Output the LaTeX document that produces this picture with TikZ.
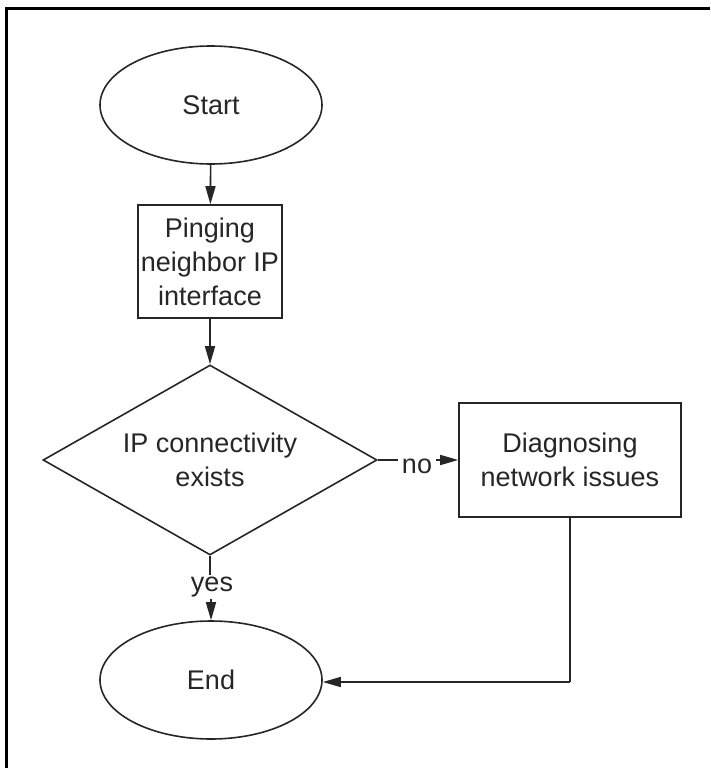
\documentclass[tikz,border=0pt]{standalone}
\usepackage{fontspec}
\setmainfont{Liberation Sans}
\usetikzlibrary{shapes.geometric,arrows.meta}
\begin{document}
\begin{tikzpicture}[x=1pt,y=-1pt,
  shp/.style={draw=black!85,line width=1.6pt,inner sep=0pt,align=center,
    font=\fontsize{27}{34}\selectfont,text=black!85},
  term/.style={shp,ellipse,minimum width=222pt,minimum height=118pt},
  proc/.style={shp,rectangle},
  deci/.style={shp,diamond,aspect=1.76,minimum width=334pt,minimum height=190pt},
  lbl/.style={inner sep=3pt,font=\fontsize{27}{34}\selectfont,text=black!85},
  conn/.style={draw=black!85,line width=1.6pt},
  arr/.style={conn,-{Triangle[length=18pt,width=10pt]}},
  frame/.style={line width=3pt,black}
]
\useasboundingbox (0,0) rectangle (710,768);
\draw[frame] (6.5,768) -- (6.5,8.5) -- (710,8.5);
\node[term] (start) at (211,105) {Start};
\node[proc,minimum width=144pt,minimum height=113pt] (ping) at (210,261.5) {Pinging\\neighbor IP\\interface};
\node[deci] (dia) at (210,460) {IP connectivity\\exists};
\node[proc,minimum width=222pt,minimum height=114pt] (diag) at (570,460) {Diagnosing\\network issues};
\node[term] (end) at (211,680) {End};
\node[lbl,inner sep=4pt] (no) at (417,466) {no};
\node[lbl,inner sep=2pt] (yes) at (212,587) {yes};
\coordinate (corner) at (570,682);
\draw[arr] (start) -- (ping);
\draw[arr] (ping) -- (dia);
\draw[conn] (dia.east) -- (dia.east -| no.west);
\draw[arr] (no.east |- dia.east) -- (diag.west |- dia.east);
\draw[conn] (dia.south) -- (dia.south |- yes.north);
\draw[arr] (yes.south -| end.north) -- (end.north);
\draw[conn] (diag.south) -- (corner);
\draw[arr] (corner) -- (end.east |- corner);
\end{tikzpicture}
\end{document}
